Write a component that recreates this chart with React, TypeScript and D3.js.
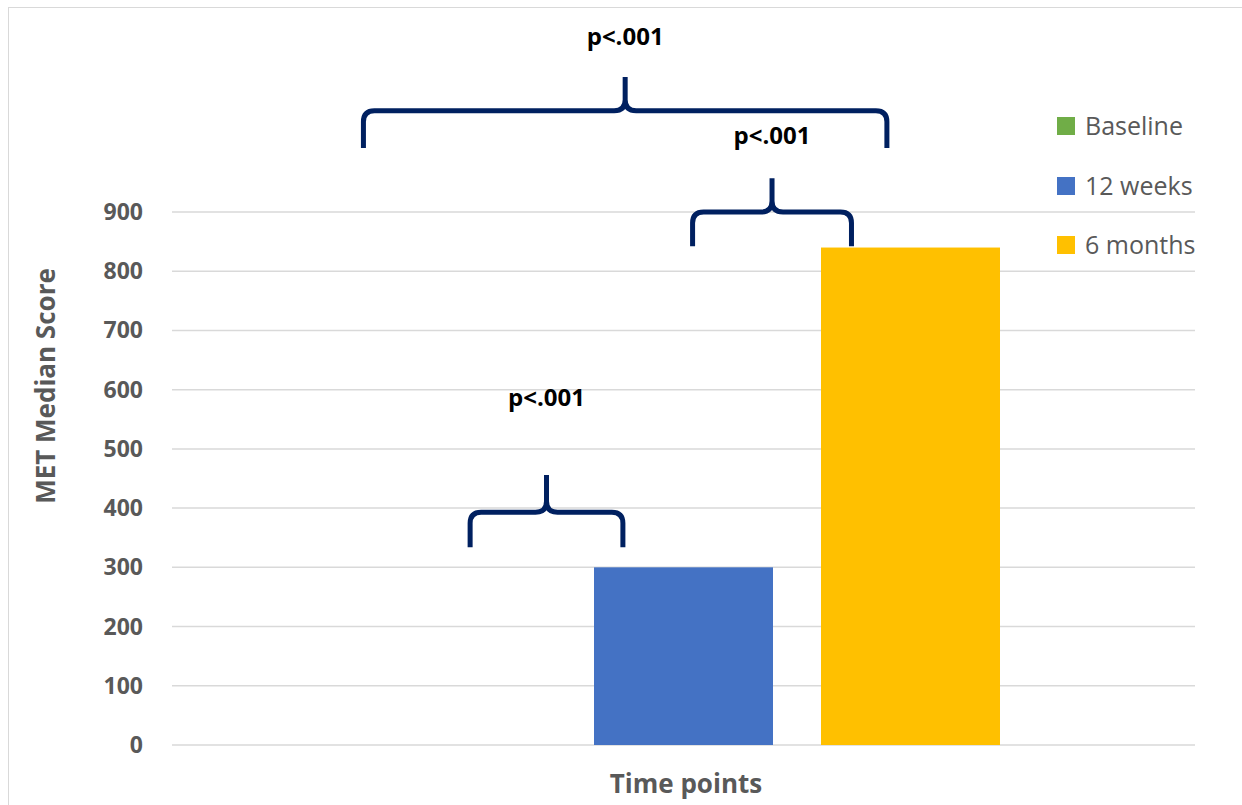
import React from "react";
import * as d3 from "d3";

const categories = ["Time points"];
const seriesNames = ["Baseline", "12 weeks", "6 months"];
const seriesValues = [0, 300, 840];
const seriesColors = ["#70AD47", "#4472C4", "#FFC000"];
const yTicks = [0, 100, 200, 300, 400, 500, 600, 700, 800, 900];

// significance brackets: positions in series-index units, levels in data units
const brackets = [
  { from: 0.06, to: 0.733, yBar: 393, yEnd: 334, yTip: 456, yLabel: 572, label: "p<.001" },
  { from: 1.04, to: 1.74, yBar: 900, yEnd: 842, yTip: 957, yLabel: 1015, label: "p<.001" },
  { from: -0.41, to: 1.896, yBar: 1071, yEnd: 1008, yTip: 1128, yLabel: 1182, label: "p<.001" },
];

const W = 1242;
const H = 805;
const plot = { left: 172, right: 1195, top: 212, bottom: 745 };
const FONT = "'Open Sans', sans-serif";

export default function App() {
  const y = d3.scaleLinear().domain([0, 900]).range([plot.bottom, plot.top]);
  const x0 = d3.scaleBand().domain(categories).range([plot.left, plot.right]).paddingInner(0).paddingOuter(0);
  const groupW = x0.bandwidth();
  const barW = 179;
  const gap = 48;
  const groupTotal = seriesNames.length * barW + (seriesNames.length - 1) * gap;
  const gStart = (x0(categories[0]) as number) + (groupW - groupTotal) / 2;
  const xs = d3
    .scaleLinear()
    .domain([0, seriesNames.length - 1])
    .range([gStart + barW / 2, gStart + groupTotal - barW / 2]);

  const bracePath = (x1: number, x2: number, yb: number, ye: number, yt: number) => {
    const xm = (x1 + x2) / 2;
    const r = 11;
    return (
      `M${x1},${ye} L${x1},${yb + r} Q${x1},${yb} ${x1 + r},${yb} L${xm - r},${yb} Q${xm},${yb} ${xm},${yb - r} L${xm},${yt} ` +
      `M${xm},${yb - r} Q${xm},${yb} ${xm + r},${yb} L${x2 - r},${yb} Q${x2},${yb} ${x2},${yb + r} L${x2},${ye}`
    );
  };

  const legendY = [126, 186, 245];

  return (
    <svg width={W} height={H} style={{ position: "absolute", left: 0, top: 0, background: "#fff" }}>
      <rect x={8.5} y={7.5} width={W} height={H} fill="#fff" stroke="#D9D9D9" strokeWidth={1} />
      {yTicks.map((t) => (
        <g key={t}>
          <line x1={plot.left} x2={plot.right} y1={y(t)} y2={y(t)} stroke="#D9D9D9" strokeWidth={1.5} />
          <text
            x={143}
            y={y(t)}
            dy="0.35em"
            textAnchor="end"
            fontFamily={FONT}
            fontWeight="bold"
            fontSize={23}
            fill="#595959"
          >
            {t}
          </text>
        </g>
      ))}
      {seriesNames.map((s, i) => (
        <rect
          key={s}
          x={xs(i) - barW / 2}
          y={y(seriesValues[i])}
          width={barW}
          height={y(0) - y(seriesValues[i])}
          fill={seriesColors[i]}
        />
      ))}
      {brackets.map((b, i) => {
        const x1 = xs(b.from);
        const x2 = xs(b.to);
        const xm = (x1 + x2) / 2;
        return (
          <g key={i}>
            <path
              d={bracePath(x1, x2, y(b.yBar), y(b.yEnd), y(b.yTip))}
              fill="none"
              stroke="#002060"
              strokeWidth={5}
            />
            <text
              x={xm}
              y={y(b.yLabel)}
              textAnchor="middle"
              fontFamily={FONT}
              fontWeight="bold"
              fontSize={24}
              fill="#000"
            >
              {b.label}
            </text>
          </g>
        );
      })}
      <text
        transform={`translate(55, 386) rotate(-90)`}
        textAnchor="middle"
        fontFamily={FONT}
        fontWeight="bold"
        fontSize={26}
        fill="#595959"
      >
        MET Median Score
      </text>
      <text
        x={686}
        y={793}
        textAnchor="middle"
        fontFamily={FONT}
        fontWeight="bold"
        fontSize={26}
        fill="#595959"
      >
        {categories[0]}
      </text>
      {seriesNames.map((s, i) => (
        <g key={s}>
          <rect x={1057} y={legendY[i] - 9} width={18} height={18} fill={seriesColors[i]} />
          <text x={1085} y={legendY[i] + 9} fontFamily={FONT} fontSize={25} fill="#595959">
            {s}
          </text>
        </g>
      ))}
    </svg>
  );
}
